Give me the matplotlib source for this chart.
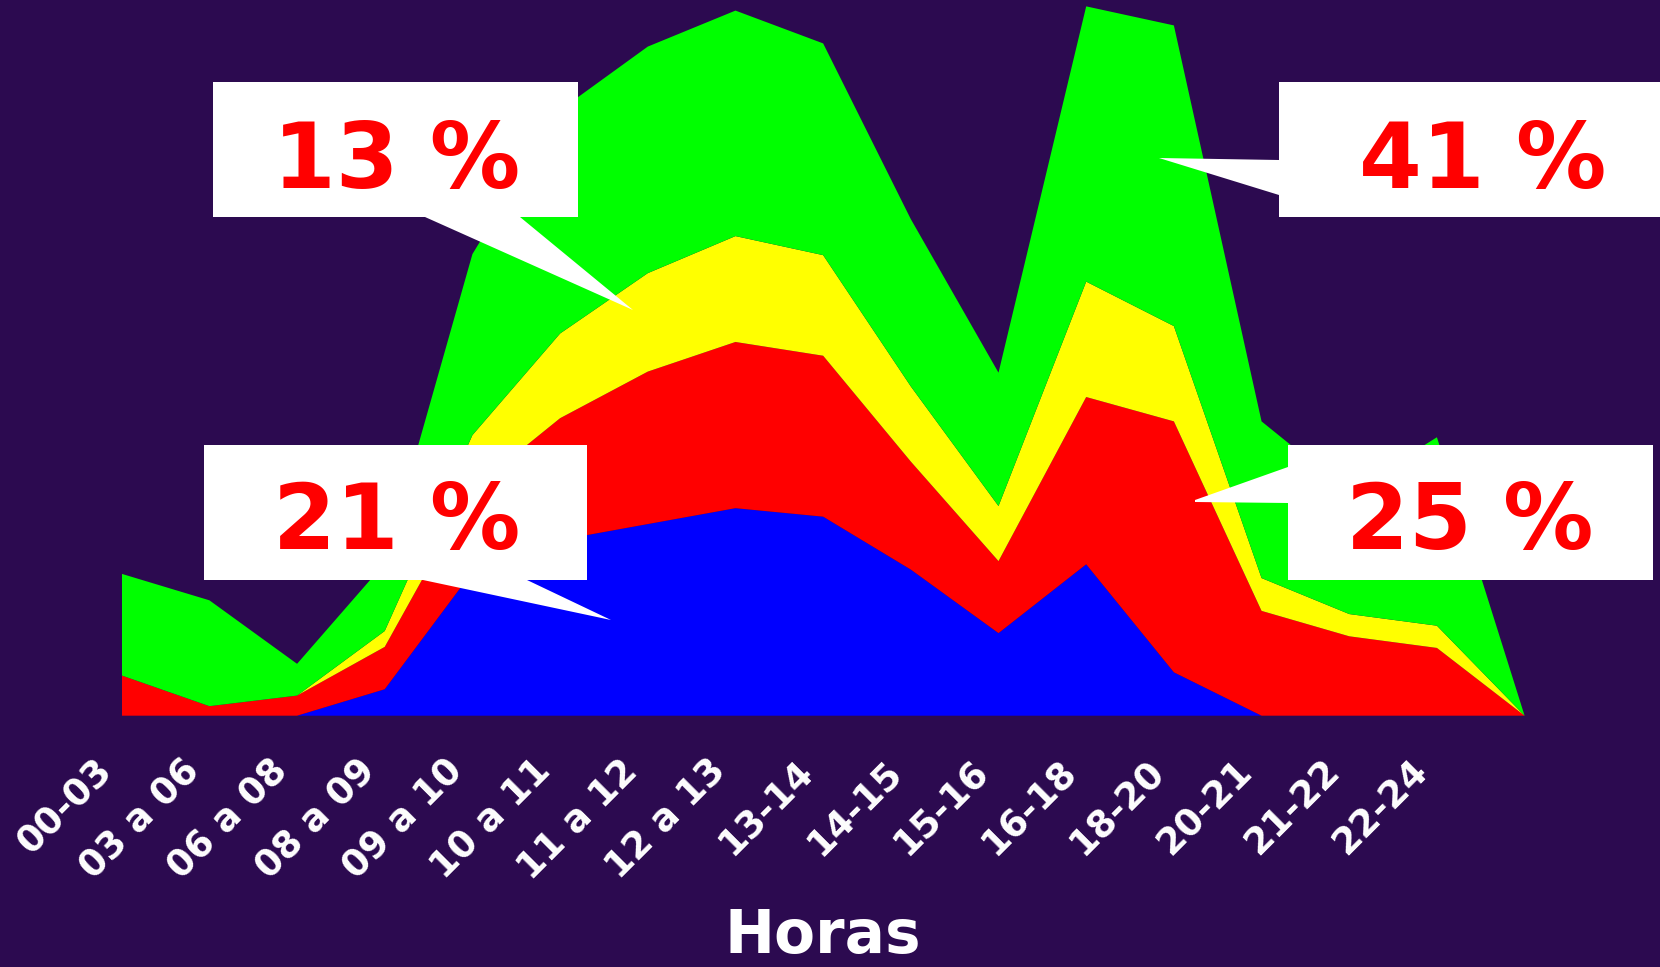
import matplotlib
matplotlib.use("Agg")
import matplotlib.pyplot as plt
from matplotlib.patches import Polygon
import matplotlib.transforms as mtransforms
import numpy as np

# ---- data ----
hours = ["00-03", "03 a 06", "06 a 08", "08 a 09", "09 a 10", "10 a 11", "11 a 12",
         "12 a 13", "13-14", "14-15", "15-16", "16-18", "18-20", "20-21", "21-22", "22-24"]
blue = [0, 0, 0, 25, 136, 166, 181, 196, 188, 138, 78, 143, 41, 0, 0, 0, 0]
red = [38, 9, 19, 40, 78, 115, 144, 157, 152, 102, 68, 158, 237, 99, 75, 64, 0]
yellow = [0, 0, 0, 15, 51, 80, 93, 100, 95, 71, 52, 109, 90, 31, 21, 21, 0]
green = [96, 100, 30, 64, 171, 211, 214, 213, 200, 158, 126, 260, 284, 148, 115, 178, 0]
callout_labels = ["13 %", "21 %", "41 %", "25 %"]

BG = "#2C0A50"
W, H = 1660, 967
fig = plt.figure(figsize=(W / 100, H / 100), dpi=100, facecolor=BG)
plt.rcParams['font.family'] = ['DejaVu Sans']

ax = fig.add_axes([121.7 / W, 1 - 715.7 / H, (1524.6 - 121.7) / W, 715.7 / H])
ax.set_facecolor(BG)
x = np.arange(len(blue))
ax.stackplot(x, blue, red, yellow, green,
             colors=["#0000FF", "#FF0000", "#FFFF00", "#00FF00"], linewidth=0)
ax.set_xlim(0, len(blue) - 1)
ax.set_ylim(0, 676)
for s in ax.spines.values():
    s.set_visible(False)
ax.set_yticks([])
ax.set_xticks(range(len(hours)))
ax.set_xticklabels(hours, rotation=45, ha="right", va="center", rotation_mode="anchor",
                   color="white", fontsize=26.5, fontweight="bold")
ax.tick_params(axis="x", length=0, pad=0)
off = mtransforms.ScaledTranslation(-15 / 100, -50 / 100, fig.dpi_scale_trans)
for lbl in ax.get_xticklabels():
    lbl.set_transform(lbl.get_transform() + off)

fig.text(823 / W, 1 - 937 / H, "Horas", color="white", fontsize=43, fontweight="bold",
         ha="center", va="center")


def P(px, py):
    return (px / W, 1 - py / H)


def callout(pts, text, tx, ty):
    poly = Polygon([P(a, b) for a, b in pts], closed=True, facecolor="white",
                   edgecolor="none", transform=fig.transFigure, zorder=5)
    fig.patches.append(poly)
    fig.text(tx / W, 1 - ty / H, text, color="#FF0000", fontsize=65, fontweight="bold",
             ha="center", va="center", zorder=6)


# 13 % box (pointer from bottom edge)
callout([(213, 82), (578, 82), (578, 217), (520, 217), (633, 310), (425, 217), (213, 217)],
        callout_labels[0], 397, 163)
# 21 % box
callout([(204, 445), (587, 445), (587, 580), (527, 580), (611, 620), (423, 580), (204, 580)],
        callout_labels[1], 397, 524)
# 41 % box (pointer from left edge)
callout([(1279, 82), (1660, 82), (1660, 217), (1279, 217), (1279, 195), (1159, 158), (1279, 160)],
        callout_labels[2], 1483, 163)
# 25 % box
callout([(1288, 445), (1653, 445), (1653, 580), (1288, 580), (1288, 503), (1195, 502), (1195, 500), (1288, 467)],
        callout_labels[3], 1470, 524)

fig.savefig("out.png", dpi=100, facecolor=BG)
